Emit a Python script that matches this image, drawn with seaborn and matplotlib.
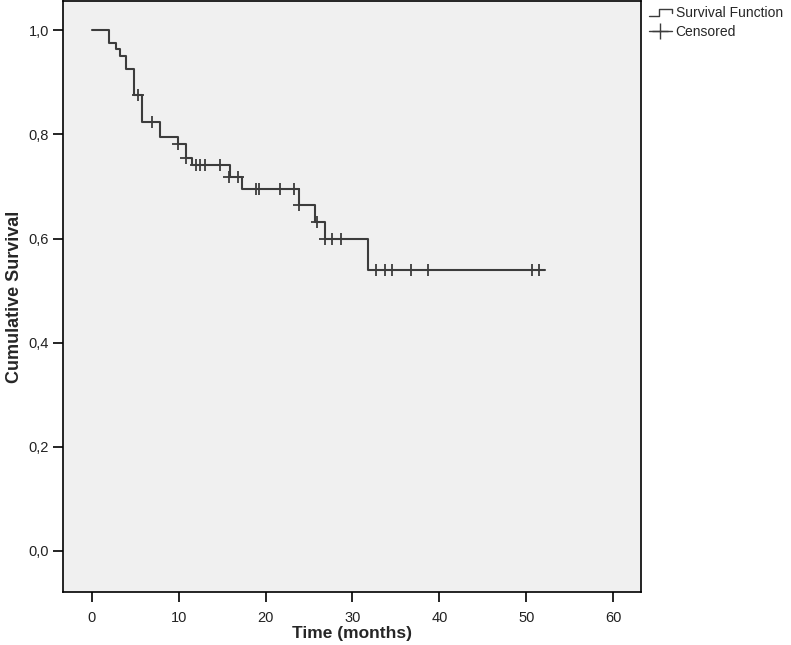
import numpy as np
import pandas as pd
import seaborn as sns
import matplotlib.pyplot as plt
from matplotlib.lines import Line2D
from matplotlib.legend_handler import HandlerBase

# Kaplan-Meier steps
step_times = [0, 2.0, 2.8, 3.3, 3.9, 4.9, 5.8, 7.8, 9.9, 10.8, 11.5, 15.9, 17.3, 23.8, 25.7, 26.8, 31.8]
survival = [1.0, 0.975, 0.963, 0.950, 0.925, 0.875, 0.823, 0.795, 0.782, 0.754, 0.742,
            0.718, 0.696, 0.665, 0.632, 0.599, 0.539]
end_time = 52.1

# censored observations
censor_times = [5.3, 6.9, 9.9, 10.8, 12.0, 12.5, 13.0, 14.8, 15.8, 16.8, 18.9, 19.2,
                21.7, 23.3, 23.8, 25.9, 26.8, 27.7, 28.7, 32.7, 33.7, 34.6, 36.7,
                38.7, 50.6, 51.5]
censor_surv = [0.875, 0.823, 0.782, 0.754, 0.742, 0.742, 0.742, 0.742, 0.718, 0.718,
               0.696, 0.696, 0.696, 0.696, 0.665, 0.632, 0.599, 0.599, 0.599,
               0.539, 0.539, 0.539, 0.539, 0.539, 0.539, 0.539]

x_ticks = [0, 10, 20, 30, 40, 50, 60]
y_ticks = [0.0, 0.2, 0.4, 0.6, 0.8, 1.0]
y_labels = ['0,0', '0,2', '0,4', '0,6', '0,8', '1,0']

line_col = '#3c3c3c'

sns.set_style('white', {'axes.facecolor': '#f0f0f0', 'axes.edgecolor': 'black'})
plt.rcParams['font.family'] = ['Liberation Sans', 'DejaVu Sans']

steps = pd.DataFrame({'time': step_times + [end_time], 'surv': survival + [survival[-1]]})
cens = pd.DataFrame({'time': censor_times, 'surv': censor_surv})

fig = plt.figure(figsize=(7.91, 6.45), dpi=100)
ax = fig.add_axes([0.0797, 0.0814, 0.7307, 0.9170])

sns.lineplot(data=steps, x='time', y='surv', ax=ax, drawstyle='steps-post',
             color=line_col, linewidth=1.5, estimator=None, sort=False)
sns.scatterplot(data=cens, x='time', y='surv', ax=ax, marker='+', s=70,
                color=line_col, linewidth=1.3, zorder=3)

ax.set_xlim(-3.3, 63.2)
ax.set_ylim(-0.0797, 1.056)
ax.set_xticks(x_ticks)
ax.set_yticks(y_ticks)
ax.set_yticklabels(y_labels)
ax.tick_params(axis='both', direction='out', length=7, width=1.2, color='black',
               labelsize=10.5, labelcolor='#222222', pad=3, bottom=True, left=True)
ax.tick_params(axis='x', pad=6)
for s in ax.spines.values():
    s.set_linewidth(1.2)
ax.set_xlabel('Time (months)', fontsize=12.5, fontweight='bold', labelpad=1)
ax.set_ylabel('Cumulative Survival', fontsize=13, fontweight='bold', labelpad=4)


class StepHandler(HandlerBase):
    def create_artists(self, legend, orig, xd, yd, w, h, fontsize, trans):
        xs = [xd, xd + w * 0.45, xd + w * 0.45, xd + w, xd + w]
        ys = [yd + h * 0.15, yd + h * 0.15, yd + h * 0.85, yd + h * 0.85, yd + h * 0.5]
        ln = Line2D(xs, ys, color=line_col, linewidth=1.0, transform=trans)
        return [ln]


h1 = Line2D([], [], color=line_col)
h2 = Line2D([], [], color=line_col, marker='+', markersize=11, linewidth=1.0)
ax.legend([h1, h2], ['Survival Function', 'Censored'], handler_map={h1: StepHandler()},
          loc='upper left', bbox_to_anchor=(1.0, 1.005), frameon=False, fontsize=10,
          handlelength=1.6, handletextpad=0.3, labelspacing=0.3, borderaxespad=0.2)

fig.savefig('out.png', dpi=100)
